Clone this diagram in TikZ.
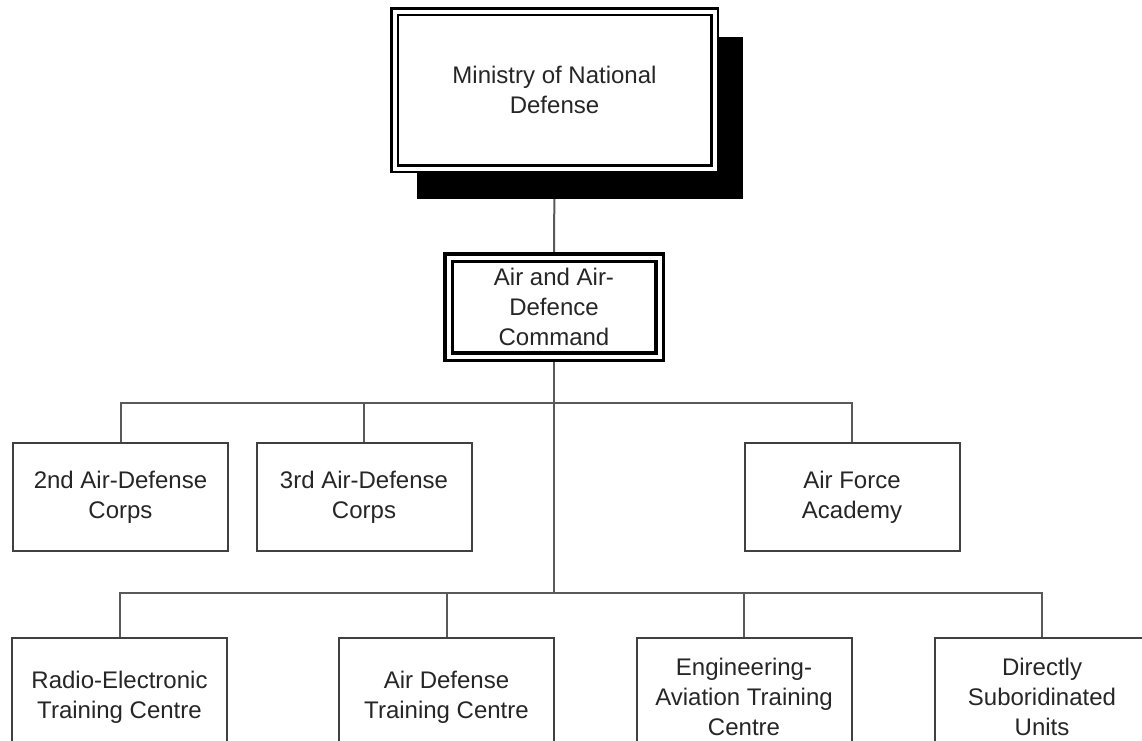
\documentclass[tikz,border=0pt]{standalone}
\usepackage{fontspec}
\setmainfont{Liberation Sans}
\usetikzlibrary{backgrounds,calc}
\tikzset{
	orgtext/.style={align=center, inner sep=0pt, text=black!85, font=\fontsize{24}{30}\selectfont},
	ministry/.style={orgtext, fill=white, draw=black, line width=2.5pt, double=white, double distance=4pt, outer sep=4.5pt, minimum width=320pt, minimum height=157pt},
	command/.style={orgtext, fill=white, draw=black, line width=3.5pt, double=white, double distance=4pt, outer sep=5.5pt, minimum width=211pt, minimum height=99pt},
	unit/.style={orgtext, fill=white, draw=black!75, line width=2pt, minimum width=215pt, minimum height=108pt},
	school/.style={unit, minimum height=118pt},
	link/.style={draw=black!65, line width=2pt}
}
\begin{document}
\begin{tikzpicture}[x=1pt, y=-1pt]
		\useasboundingbox (0,0) rectangle (1142,740);

		% top of the tree
		\node[ministry] (mnd) at (554.5,90) {Ministry of National\\Defense};
		\node[command] (aadc) at (554,307) {Air and Air-\\Defence\\Command};

		% first row
		\node[unit] (corps2) at (120.5,497) {2nd Air-Defense\\Corps};
		\node[unit] (corps3) at (364,497) {3rd Air-Defense\\Corps};
		\node[unit] (academy) at (852,497) {Air Force\\Academy};

		% second row
		\node[school] (radio) at (119.5,697) {Radio-Electronic\\Training Centre};
		\node[school] (adtc) at (446.5,697) {Air Defense\\Training Centre};
		\node[school] (eatc) at (744,697) {Engineering-\\Aviation Training\\Centre};
		\node[school] (dsu) at (1042,697) {Directly\\Suboridinated\\Units};

		\begin{scope}[on background layer]
			\fill[white] (0,0) rectangle (1142,740);
			\draw[link] (mnd.south) -- (aadc.north);
			\draw[link] (aadc.south) -- ($(aadc.south |- radio.north)+(0,-44)$);

			\draw[link] (corps2.north) -- ++(0,-39) -| (academy.north);
			\draw[link] (corps3.north) -- ++(0,-39);

			\draw[link] (radio.north) -- ++(0,-44) -| (dsu.north);
			\draw[link] (adtc.north) -- ++(0,-44);
			\draw[link] (eatc.north) -- ++(0,-44);

			% shadow of the ministry
			\fill[black] ([xshift=27pt,yshift=-30pt]mnd.north west) rectangle ([xshift=24pt,yshift=-26pt]mnd.south east);
		\end{scope}
\end{tikzpicture}
\end{document}
